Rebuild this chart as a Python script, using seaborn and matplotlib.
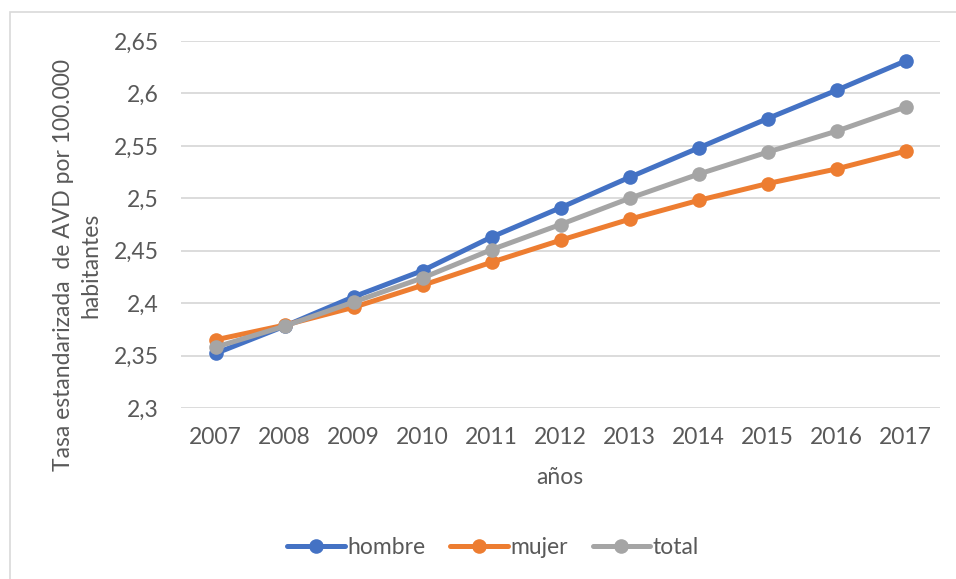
import numpy as np
import pandas as pd
import seaborn as sns
import matplotlib.pyplot as plt
from matplotlib.patches import Rectangle
from matplotlib.lines import Line2D

# Standardised rate per 100.000 inhabitants, by sex
years = [2007, 2008, 2009, 2010, 2011, 2012, 2013, 2014, 2015, 2016, 2017]
hombre = [2.352, 2.378, 2.406, 2.431, 2.463, 2.491, 2.520, 2.548, 2.576, 2.603, 2.631]
mujer = [2.365, 2.379, 2.396, 2.417, 2.439, 2.460, 2.480, 2.498, 2.514, 2.528, 2.545]
total = [2.358, 2.378, 2.401, 2.424, 2.451, 2.475, 2.500, 2.523, 2.544, 2.564, 2.587]

series_names = ["hombre", "mujer", "total"]
series_colors = ["#4472C4", "#ED7D31", "#A5A5A5"]
y_ticks = [2.30, 2.35, 2.40, 2.45, 2.50, 2.55, 2.60, 2.65]
y_tick_labels = ["2,3", "2,35", "2,4", "2,45", "2,5", "2,55", "2,6", "2,65"]
x_tick_labels = [str(y) for y in years]

df = pd.DataFrame({
    "año": years * 3,
    "valor": hombre + mujer + total,
    "serie": [s for s in series_names for _ in years],
})

sns.set_theme(style="white")
plt.rcParams['font.family'] = ['Lato', 'DejaVu Sans']
text_color = "#595959"
grid_color = "#D9D9D9"
fs = 16.5

W, H = 956, 579
fig = plt.figure(figsize=(W / 100, H / 100), dpi=100)

# light chart-area frame
fig.patches.append(Rectangle((10 / W, -0.1), 1.2, 1 - 12 / H + 0.1,
                             transform=fig.transFigure, fill=False,
                             edgecolor=grid_color, linewidth=1.2))

ax = fig.add_axes([181 / W, 1 - 408 / H, (940 - 181) / W, (408 - 41) / H])
palette = dict(zip(series_names, series_colors))
sns.lineplot(data=df, x="año", y="valor", hue="serie", palette=palette,
             marker="o", markersize=10.5, markeredgewidth=0, linewidth=3.6,
             ax=ax, legend=False, clip_on=False)

ax.set_xlim(years[0] - 0.5, years[-1] + 0.5)
ax.set_ylim(y_ticks[0], y_ticks[-1])
ax.set_xticks(years)
ax.set_xticklabels(x_tick_labels)
ax.set_yticks(y_ticks)
ax.set_yticklabels(y_tick_labels)
ax.tick_params(axis="both", length=0, labelsize=fs, colors=text_color)
ax.tick_params(axis="y", pad=16)
ax.tick_params(axis="x", pad=14)
ax.yaxis.grid(True, color=grid_color, linewidth=1.3)
ax.set_axisbelow(True)
for sp in ax.spines.values():
    sp.set_visible(False)
ax.set_xlabel("")
ax.set_ylabel("")

fig.text(560 / W, 1 - 478 / H, "años", ha="center", va="center",
         fontsize=fs, color=text_color)
fig.text(77 / W, 1 - 265 / H, "Tasa estandarizada  de AVD por 100.000\nhabitantes",
         ha="center", va="center", rotation=90, fontsize=fs,
         color=text_color, linespacing=1.35, multialignment="center")

handles = [Line2D([0], [0], color=c, linewidth=3.6, marker="o",
                  markersize=10.5, markeredgewidth=0) for c in series_colors]
fig.legend(handles, series_names, loc="center",
           bbox_to_anchor=(493 / W, 1 - 548 / H), ncol=3, frameon=False,
           fontsize=fs, labelcolor=text_color, handlelength=2.5,
           handletextpad=0.1, columnspacing=1.1)

fig.savefig("out.png", dpi=100)
